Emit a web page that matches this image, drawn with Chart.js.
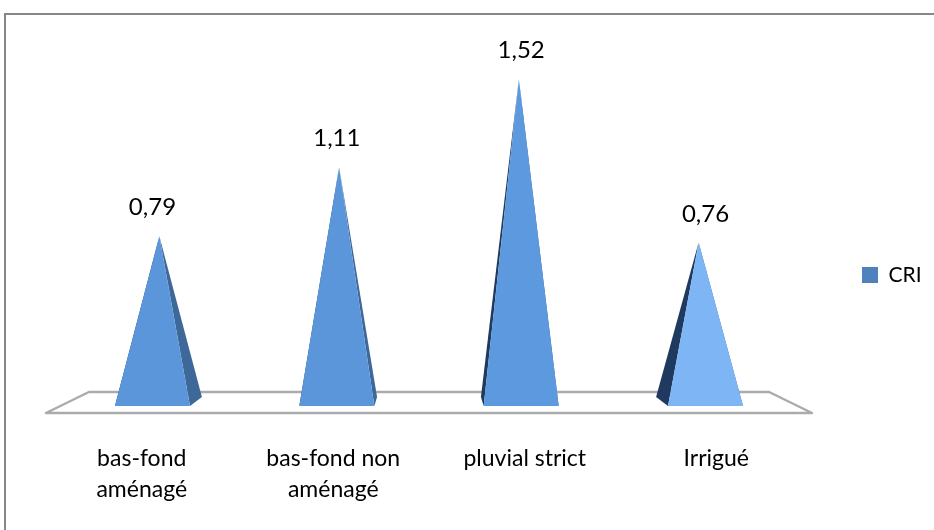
<!DOCTYPE html>
<html>
<head>
<meta charset="utf-8">
<title>CRI</title>
<script src="https://cdn.jsdelivr.net/npm/chart.js@4/dist/chart.umd.min.js"></script>
<style>
  html, body { margin: 0; padding: 0; background: #ffffff; overflow: hidden; }
  #wrap { width: 934px; height: 530px; position: relative; }
</style>
</head>
<body>
<div id="wrap"><canvas id="chart" width="934" height="530"></canvas></div>
<script>
// ---- data ----
const categories = [['bas-fond', 'aménagé'], ['bas-fond non', 'aménagé'], 'pluvial strict', 'Irrigué'];
const seriesName = 'CRI';
const criValues = [0.79, 1.11, 1.52, 0.76];
const valueAxisRange = [0, 1.7];

// ---- styling ----
const legendColor = '#4F81BD';
const frontColors = ['#5B96DA', '#5B96DA', '#5D99DE', '#7DB5F5'];
const leftSideColor = '#1F3A5E';
const rightSideColor = '#3D6899';
const floorColor = '#ABABAB';
const frameColor = '#878787';
const FONT = 'Lato';
const LEGEND_FONT_SIZE = 21;
const LEGEND_BOX = 16;
const LEGEND_GAP = 50;
const PLOT_RIGHT = 812;
const CANVAS_W = 934;

// perspective of the floor: front edge sits below the zero line, back edge above it,
// and the back edge is shrunk toward the centre
const FLOOR_FRONT = 7;
const FLOOR_BACK = 14;
const FLOOR_SHRINK = 0.112;
const BASE_DEPTH = 9;

function perspective(chart) {
  const area = chart.chartArea;
  const y0 = chart.scales.y.getPixelForValue(0);
  const cx = (area.left + area.right) / 2;
  const yF = y0 + FLOOR_FRONT;
  const yB = y0 - FLOOR_BACK;
  const proj = (u, yy) => cx + (u - cx) * (1 - FLOOR_SHRINK * (yF - yy) / (yF - yB));
  return { area, y0, cx, yF, yB, proj };
}

function fillTri(ctx, a, b, c, color) {
  ctx.beginPath();
  ctx.moveTo(a[0], a[1]);
  ctx.lineTo(b[0], b[1]);
  ctx.lineTo(c[0], c[1]);
  ctx.closePath();
  ctx.fillStyle = color;
  ctx.fill();
}

const pyramidPlugin = {
  id: 'pyramids',
  beforeDraw(chart) {
    const ctx = chart.ctx;
    ctx.save();
    ctx.strokeStyle = frameColor;
    ctx.lineWidth = 2;
    ctx.strokeRect(5, 14, 1200, 800);
    ctx.restore();
  },
  beforeDatasetsDraw(chart) {
    const { area, yF, yB, proj } = perspective(chart);
    const ctx = chart.ctx;
    ctx.save();
    ctx.beginPath();
    ctx.moveTo(proj(area.left, yB), yB);
    ctx.lineTo(proj(area.right, yB), yB);
    ctx.lineTo(proj(area.right, yF), yF);
    ctx.lineTo(proj(area.left, yF), yF);
    ctx.closePath();
    ctx.fillStyle = '#ffffff';
    ctx.fill();
    ctx.strokeStyle = floorColor;
    ctx.lineWidth = 2.5;
    ctx.lineJoin = 'round';
    ctx.stroke();
    ctx.restore();
  },
  beforeDatasetDraw(chart, args) {
    const { y0, proj } = perspective(chart);
    const ctx = chart.ctx;
    const yBack = y0 - BASE_DEPTH;
    const yMid = y0 - BASE_DEPTH / 2;
    ctx.save();
    args.meta.data.forEach((bar, i) => {
      const { x, y, width } = bar.getProps(['x', 'y', 'width'], true);
      const hw = width / 2;
      const fl = [proj(x - hw, y0), y0];
      const fr = [proj(x + hw, y0), y0];
      const bl = [proj(x - hw, yBack), yBack];
      const br = [proj(x + hw, yBack), yBack];
      const apex = [proj(x, yMid), y];
      fillTri(ctx, bl, fl, apex, leftSideColor);
      fillTri(ctx, fr, br, apex, rightSideColor);
      fillTri(ctx, fl, fr, apex, frontColors[i % frontColors.length]);
    });
    ctx.restore();
    return false;
  },
  afterDatasetsDraw(chart) {
    const { y0, proj } = perspective(chart);
    const ctx = chart.ctx;
    const meta = chart.getDatasetMeta(0);
    const values = chart.data.datasets[0].data;
    ctx.save();
    ctx.font = '24px ' + FONT;
    ctx.fillStyle = '#000000';
    ctx.textAlign = 'center';
    ctx.textBaseline = 'alphabetic';
    meta.data.forEach((bar, i) => {
      const { x, y } = bar.getProps(['x', 'y'], true);
      const text = values[i].toFixed(2).replace('.', ',');
      ctx.fillText(text, proj(x, y0), y - 21);
    });
    ctx.restore();
  }
};

function build() {
  // the legend sits to the right of the plot; its width follows its text,
  // so the right padding is set to keep the plot edge in place
  const probe = document.createElement('canvas').getContext('2d');
  probe.font = LEGEND_FONT_SIZE + 'px ' + FONT;
  const textW = probe.measureText(seriesName).width;
  const legendW = LEGEND_GAP + LEGEND_BOX + LEGEND_FONT_SIZE / 2 + textW + 10;
  const padRight = Math.max(0, CANVAS_W - PLOT_RIGHT - legendW);

  new Chart(document.getElementById('chart'), {
    type: 'bar',
    data: {
      labels: categories,
      datasets: [{
        label: seriesName,
        data: criValues,
        backgroundColor: legendColor,
        borderWidth: 0,
        barPercentage: 0.407,
        categoryPercentage: 1.0
      }]
    },
    options: {
      responsive: false,
      animation: false,
      events: [],
      layout: { padding: { left: 46, right: padRight, top: 40.5, bottom: 20.4 } },
      scales: {
        x: {
          offset: true,
          grid: { display: false, drawTicks: true, tickLength: 33.5 },
          border: { display: false },
          ticks: {
            padding: 4,
            color: '#000000',
            maxRotation: 0,
            autoSkip: false,
            font: { family: FONT, size: 23, lineHeight: 1.35 }
          }
        },
        y: {
          display: false,
          min: valueAxisRange[0],
          max: valueAxisRange[1]
        }
      },
      plugins: {
        tooltip: { enabled: false },
        legend: {
          position: 'right',
          labels: {
            boxWidth: LEGEND_BOX,
            boxHeight: LEGEND_BOX,
            padding: LEGEND_GAP,
            color: '#000000',
            font: { family: FONT, size: LEGEND_FONT_SIZE }
          }
        }
      }
    },
    plugins: [pyramidPlugin]
  });
}

if (document.fonts && document.fonts.load) {
  Promise.all([
    document.fonts.load('21px ' + FONT),
    document.fonts.load('23px ' + FONT),
    document.fonts.load('24px ' + FONT)
  ]).then(build, build);
} else {
  build();
}
</script>
</body>
</html>
